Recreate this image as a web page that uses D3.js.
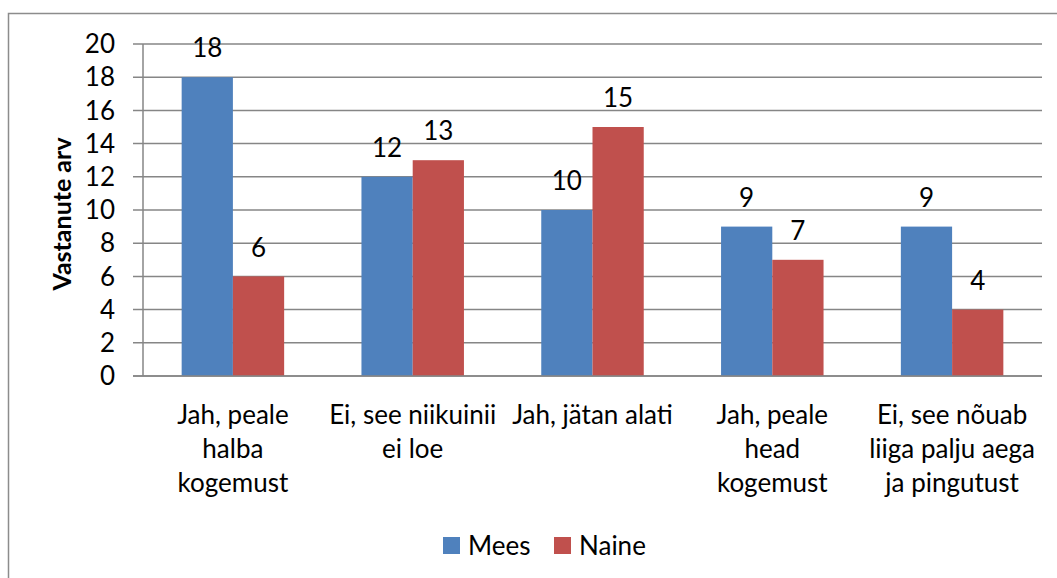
<!DOCTYPE html>
<html>
<head>
<meta charset="utf-8">
<script src="https://cdn.jsdelivr.net/npm/d3@7"></script>
<style>
  body { margin: 0; background: #fff; }
  svg { display: block; font-family: Lato, 'Open Sans', sans-serif; }
</style>
</head>
<body>
<svg id="chart" width="1057" height="578"></svg>
<script>
'use strict';

// data
const categories = [
    ['Jah, peale', 'halba', 'kogemust'],
    ['Ei, see niikuinii', 'ei loe'],
    ['Jah, jätan alati'],
    ['Jah, peale', 'head', 'kogemust'],
    ['Ei, see nõuab', 'liiga palju aega', 'ja pingutust']
];
const seriesNames = ['Mees', 'Naine'];
const mees = [18, 12, 10, 9, 9];
const naine = [6, 13, 15, 7, 4];
const yTicks = [0, 2, 4, 6, 8, 10, 12, 14, 16, 18, 20];
const colors = ['#4F81BD', '#C0504D'];

const svg = d3.select('#chart');
const margin = {left: 143, right: 1042, top: 44, bottom: 376};
const fontSize = 26;

// outer frame, running off the right and bottom edges
svg.append('rect')
    .attr('x', 8.5).attr('y', 13.5)
    .attr('width', 1100).attr('height', 600)
    .attr('fill', 'none')
    .attr('stroke', '#8c8c8c')
    .attr('stroke-width', 1.5);

const x0 = d3.scaleBand()
    .domain(d3.range(categories.length))
    .range([margin.left, margin.right])
    .paddingInner(0.43)
    .paddingOuter(0.215);

const x1 = d3.scaleBand()
    .domain(seriesNames)
    .range([0, x0.bandwidth()]);

const y = d3.scaleLinear()
    .domain([0, 20])
    .range([margin.bottom, margin.top]);

// gridlines
svg.append('g')
    .selectAll('line')
    .data(yTicks)
    .enter()
    .append('line')
    .attr('x1', margin.left - 10)
    .attr('x2', margin.right)
    .attr('y1', d => y(d))
    .attr('y2', d => y(d))
    .attr('stroke', '#868686')
    .attr('stroke-width', 1.5);

// y axis line
svg.append('line')
    .attr('x1', margin.left).attr('x2', margin.left)
    .attr('y1', margin.top).attr('y2', margin.bottom)
    .attr('stroke', '#868686')
    .attr('stroke-width', 1.5);

// y tick labels
svg.append('g')
    .selectAll('text')
    .data(yTicks)
    .enter()
    .append('text')
    .attr('x', margin.left - 28)
    .attr('y', d => y(d))
    .attr('dy', '0.35em')
    .attr('text-anchor', 'end')
    .attr('font-size', fontSize)
    .attr('fill', '#000')
    .text(d => d);

// y axis title
svg.append('text')
    .attr('transform', 'translate(62,' + ((margin.top + margin.bottom) / 2 + 4) + ') rotate(-90)')
    .attr('text-anchor', 'middle')
    .attr('dy', '0.35em')
    .attr('font-size', 25)
    .attr('font-weight', 'bold')
    .text('Vastanute arv');

const rows = categories.map((c, i) => ({i: i, values: [mees[i], naine[i]]}));

const groups = svg.append('g')
    .selectAll('g')
    .data(rows)
    .enter()
    .append('g')
    .attr('transform', d => 'translate(' + x0(d.i) + ',0)');

groups.selectAll('rect')
    .data(d => d.values.map((v, k) => ({name: seriesNames[k], value: v, k: k})))
    .enter()
    .append('rect')
    .attr('x', d => x1(d.name))
    .attr('y', d => y(d.value))
    .attr('width', x1.bandwidth())
    .attr('height', d => y(0) - y(d.value))
    .attr('fill', d => colors[d.k]);

groups.selectAll('text.val')
    .data(d => d.values.map((v, k) => ({name: seriesNames[k], value: v})))
    .enter()
    .append('text')
    .attr('class', 'val')
    .attr('x', d => x1(d.name) + x1.bandwidth() / 2)
    .attr('y', d => y(d.value) - 29)
    .attr('dy', '0.35em')
    .attr('text-anchor', 'middle')
    .attr('font-size', fontSize)
    .text(d => d.value);

// x axis line drawn over bar bottoms
svg.append('line')
    .attr('x1', margin.left - 10).attr('x2', margin.right)
    .attr('y1', margin.bottom).attr('y2', margin.bottom)
    .attr('stroke', '#868686')
    .attr('stroke-width', 1.5);

// category labels
const catText = svg.append('g')
    .selectAll('text')
    .data(categories)
    .enter()
    .append('text')
    .attr('text-anchor', 'middle')
    .attr('font-size', fontSize)
    .attr('x', (d, i) => x0(i) + x0.bandwidth() / 2);

catText.selectAll('tspan')
    .data((d, i) => d.map(line => ({line: line, i: i})))
    .enter()
    .append('tspan')
    .attr('x', d => x0(d.i) + x0.bandwidth() / 2)
    .attr('y', (d, j) => 424 + j * 34)
    .text(d => d.line);

// legend
const legend = svg.append('g')
    .selectAll('g')
    .data(seriesNames)
    .enter()
    .append('g')
    .attr('transform', (d, i) => 'translate(' + (443 + i * 111) + ',537)');

legend.append('rect')
    .attr('width', 17)
    .attr('height', 17)
    .attr('fill', (d, i) => colors[i]);

legend.append('text')
    .attr('x', 25)
    .attr('y', 9)
    .attr('dy', '0.35em')
    .attr('font-size', fontSize)
    .text(d => d);
</script>
</body>
</html>
